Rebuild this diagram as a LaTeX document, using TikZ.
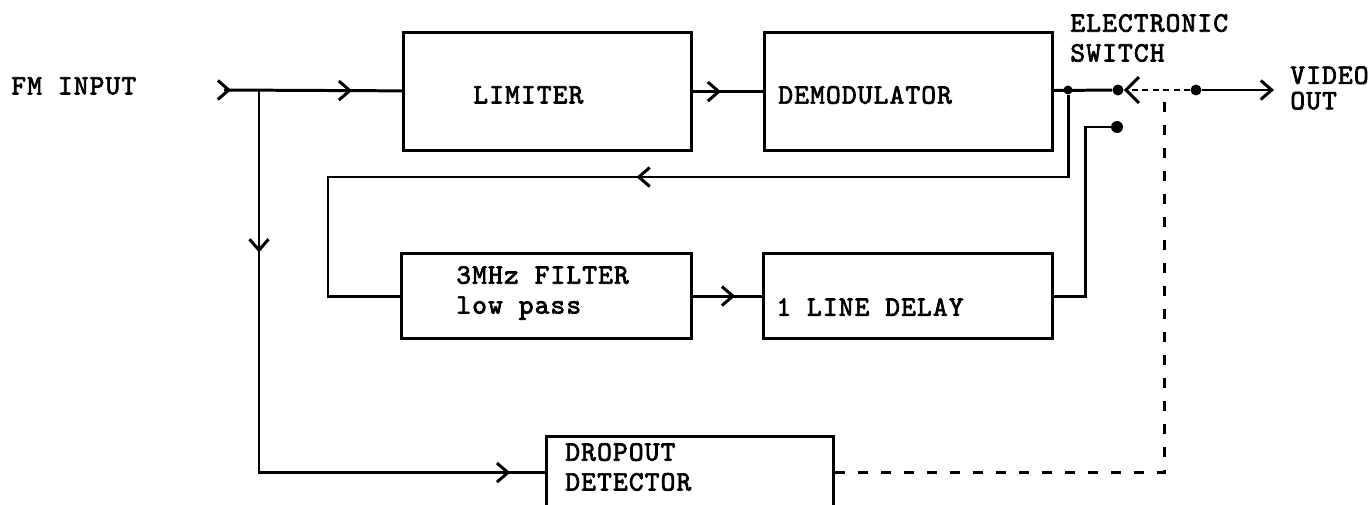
\documentclass[tikz,border=0pt]{standalone}
\usepackage{fontspec}
\usepackage{tikz}
\usetikzlibrary{arrows.meta,positioning,decorations.markings}
\newfontfamily\lbmono{lmmono10-regular}[Extension=.otf,LetterSpace=4,FakeBold=2.5]
\newcommand\lbfont{\lbmono\fontsize{16}{17}\selectfont}

\begin{document}
\begin{tikzpicture}[x=0.02cm,y=-0.02cm,font=\lbfont,
  >={Straight Barb[length=2.2mm,width=3.8mm]},
  bx/.style={draw,line width=1.8pt,inner sep=0pt},
  ln/.style={line width=1.7pt},
  tx/.style={anchor=west,inner sep=0pt,align=left},
  dt/.style={circle,fill,inner sep=0pt,minimum size=2.2mm},
  ctl/.style={line width=1.7pt,dash pattern=on 0.2cm off 0.26cm},
  blade/.style={line width=0.8pt,dash pattern=on 1.2mm off 0.9mm,
    -{Straight Barb[length=2.6mm,width=5.2mm,line width=1.7pt]}},
  arr/.style={postaction={decorate,decoration={markings,
    mark=at position #1 with {\arrow{>}}}}}]
\useasboundingbox (0,0) rectangle (1372,504);
\clip (0,0) rectangle (1372,504);

% blocks
\node[bx,anchor=north west,minimum width=5.76cm,minimum height=2.36cm] (lim) at (402,31) {};
\node[bx,minimum width=5.76cm,minimum height=2.36cm,right=1.4cm of lim] (dem) {};
\node[bx,anchor=north west,minimum width=5.8cm,minimum height=1.7cm] (flt) at (400,252) {};
\node[bx,minimum width=5.78cm,minimum height=1.7cm,right=1.38cm of flt] (dly) {};
\node[bx,anchor=north west,minimum width=5.74cm,minimum height=1.44cm] (drp) at (545,435) {};

% texts
\node[tx] (fmtx) at (11,86) {FM INPUT};
\node[tx] (limtx) at (473,95) {LIMITER};
\node[tx] (demtx) at (778,95) {DEMODULATOR};
\node[tx] (flttx) at (456,293) {3MHz FILTER\\low pass};
\node[tx] (dlytx) at (776,307) {1 LINE DELAY};
\node[tx] (drptx) at (565,467) {DROPOUT\\DETECTOR};
\node[tx] (swtx) at (1070,38) {ELECTRONIC\\SWITCH};
\node[tx,font=\lbfont\fontsize{16}{14.5}\selectfont] (vtx) at (1290,88) {VIDEO\\OUT};

% switch
\node[dt,minimum size=1.8mm] (jsw) at (1068,90) {};
\node[dt] (piv) at (1118,90) {};
\node[dt] (osw) at (1196,90) {};
\node[dt,minimum size=2.4mm] (cnt) at (1117,127) {};
\coordinate (fmin) at (224,90);
\coordinate (jin) at (259,90);
\coordinate (vout) at (1274,90);
\coordinate (lpa) at (328,177);
\coordinate (kc) at (1085,127);
\coordinate (lnk) at (1164,93);

% signal path
\draw[ln,arr=0.04,arr=0.72] (fmin) -- (lim);
\draw[ln,arr=0.4] (lim) -- (dem);
\draw[ln] (dem) -- (piv);
\draw[blade] (osw) -- (piv);
\draw[ln,->] (osw) -- (vout);
\draw[ln,arr=0.507] (jsw) |- (lpa) |- (flt);
\draw[ln,arr=0.61] (flt) -- (dly);
\draw[ln] (dly) -| (kc) -- (cnt);
\draw[ln,arr=0.243,arr=0.948] (jin) |- (drp);
\draw[ctl] (drp) -| (lnk);
\end{tikzpicture}
\end{document}
